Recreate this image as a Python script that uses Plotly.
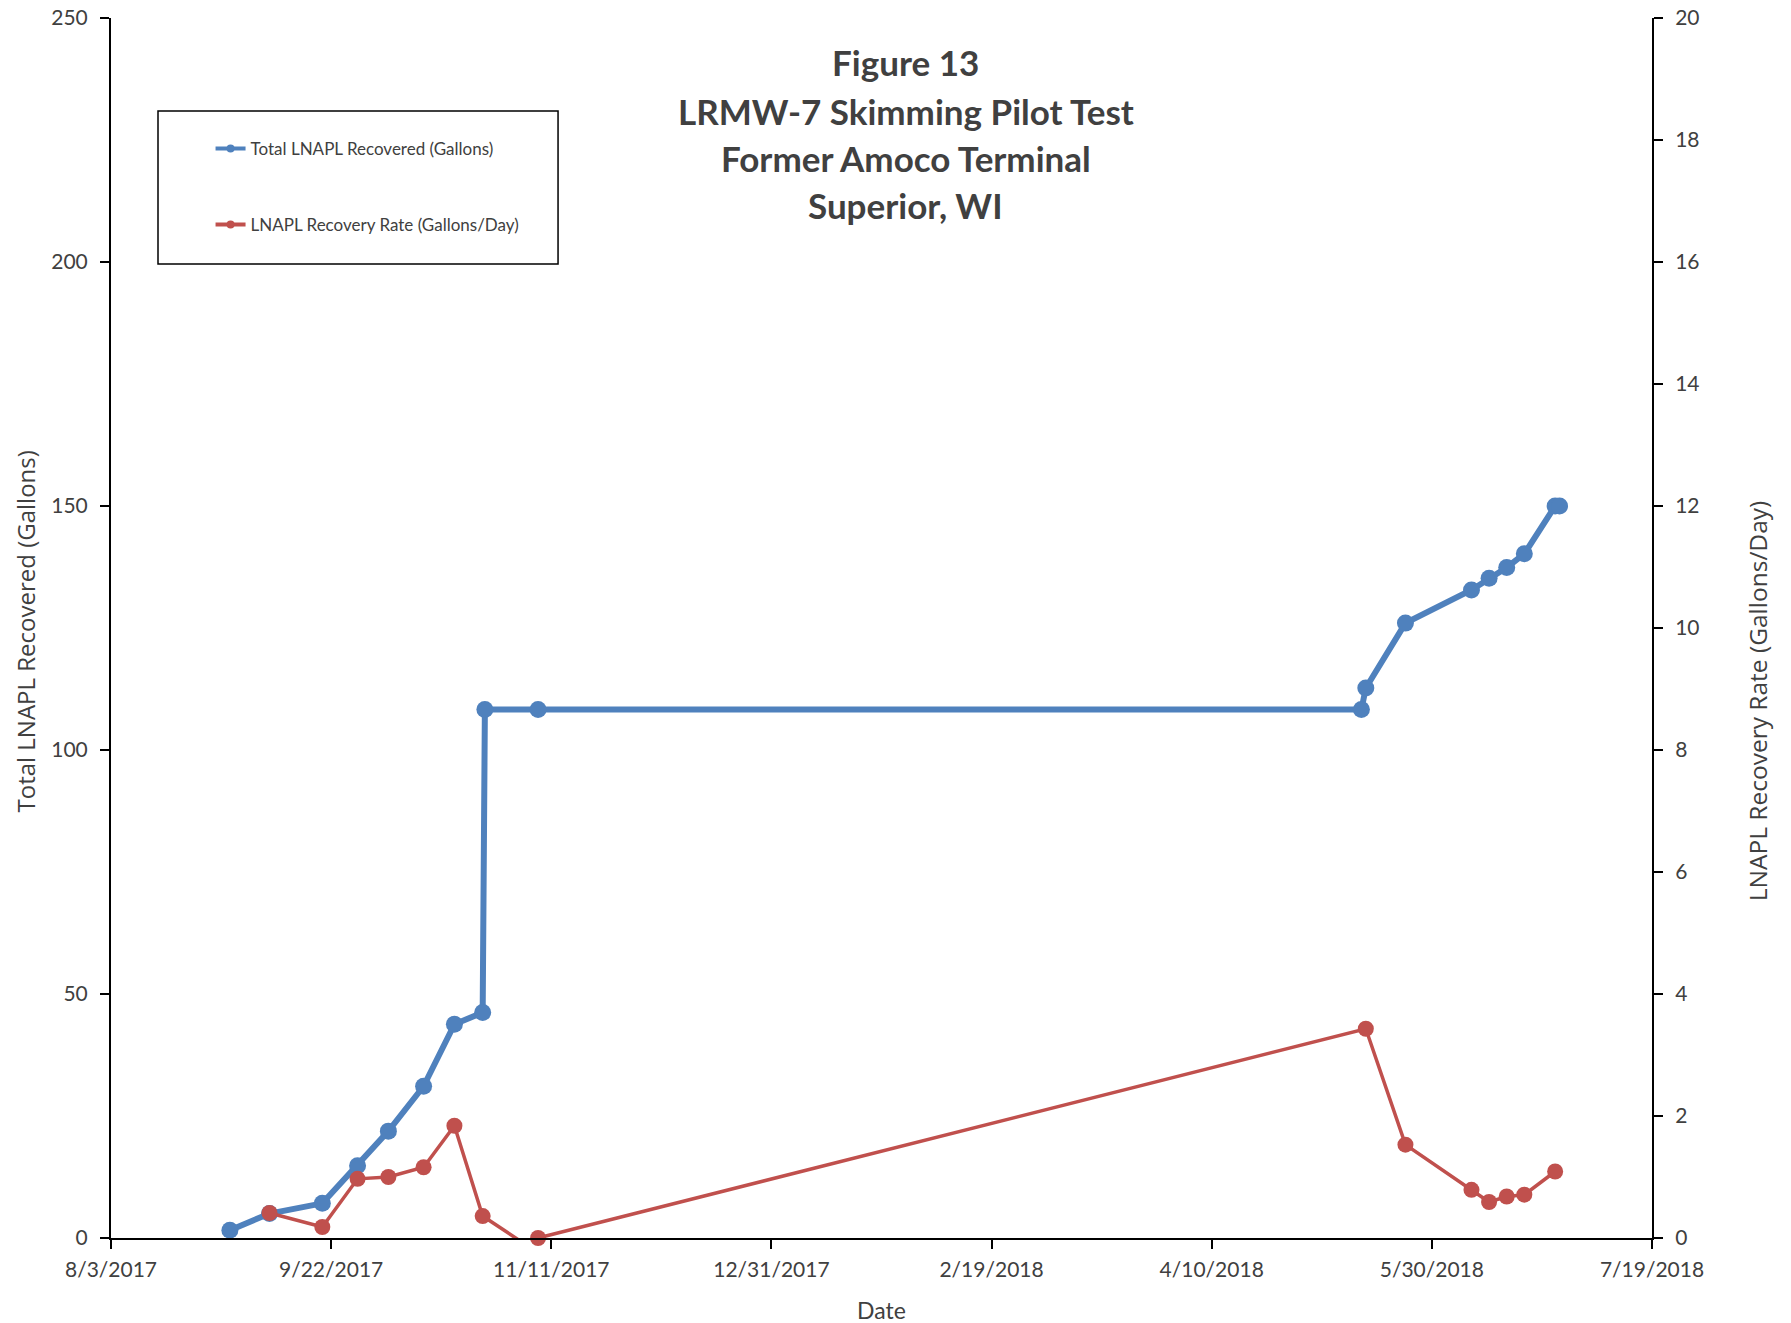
import plotly.graph_objects as go
import pandas as pd

# ---------------- data ----------------
total_dates = [
    "2017-08-30", "2017-09-08", "2017-09-20", "2017-09-28", "2017-10-05",
    "2017-10-13", "2017-10-20", "2017-10-26 10:00", "2017-10-26 22:00",
    "2017-11-08", "2018-05-14", "2018-05-15", "2018-05-24", "2018-06-08",
    "2018-06-12", "2018-06-16", "2018-06-20", "2018-06-27", "2018-06-28",
]
total_gallons = [
    1.6, 5.0, 7.1, 14.8, 21.9,
    31.1, 43.8, 46.2, 108.3,
    108.3, 108.3, 112.7, 126.0, 132.8,
    135.2, 137.4, 140.2, 150.0, 150.0,
]

rate_dates = [
    "2017-09-08", "2017-09-20", "2017-09-28", "2017-10-05", "2017-10-13",
    "2017-10-20", "2017-10-26 10:00", "2017-11-05", "2017-11-08",
    "2018-05-15", "2018-05-24", "2018-06-08", "2018-06-12", "2018-06-16",
    "2018-06-20", "2018-06-27",
]
rate_gpd = [
    0.41, 0.18, 0.97, 1.00, 1.16,
    1.84, 0.36, -0.10, 0.00,
    3.43, 1.53, 0.79, 0.59, 0.68,
    0.71, 1.09,
]

title_lines = ["Figure 13", "LRMW-7 Skimming Pilot Test", "Former Amoco Terminal", "Superior, WI"]
series_names = ["Total LNAPL Recovered (Gallons)", "LNAPL Recovery Rate (Gallons/Day)"]
x_start, x_end = "2017-08-03", "2018-07-19"

# ---------------- styling ----------------
BLUE = "#4F81BD"
RED = "#C0504D"
TXT = "#404040"
TICK_FONT = dict(family="Lato", size=21, color=TXT)

tick_dates = pd.date_range(x_start, x_end, freq="50D")
tick_text = [f"{d.month}/{d.day}/{d.year}" for d in tick_dates]

fig = go.Figure()

fig.add_trace(go.Scatter(
    x=total_dates, y=total_gallons, mode="lines+markers",
    line=dict(color=BLUE, width=6), marker=dict(color=BLUE, size=17),
    name=series_names[0], showlegend=False, cliponaxis=False,
    xaxis="x", yaxis="y",
))
fig.add_trace(go.Scatter(
    x=rate_dates, y=rate_gpd, mode="lines+markers",
    line=dict(color=RED, width=3.5),
    marker=dict(color=RED, size=16, opacity=[0 if v < 0 else 1 for v in rate_gpd]),
    name=series_names[1], showlegend=False, cliponaxis=False,
    xaxis="x", yaxis="y2",
))

# legend entries (small symbols like the reference legend)
for nm, col, grp in [(series_names[0], BLUE, "a"), (series_names[1], RED, "b")]:
    fig.add_trace(go.Scatter(
        x=[None], y=[None], mode="lines+markers", name=nm,
        line=dict(color=col, width=4), marker=dict(color=col, size=8),
        legendgroup=grp, showlegend=True,
    ))

axis_common = dict(
    showline=True, linecolor="black", linewidth=2,
    ticks="outside", ticklen=9, tickwidth=2, tickcolor="black",
    showgrid=False, zeroline=False, tickfont=TICK_FONT,
    ticklabeloverflow="allow", automargin=False,
)

fig.update_layout(
    width=1791, height=1323,
    margin=dict(l=111, r=139, t=18, b=85),
    plot_bgcolor="white", paper_bgcolor="white",
    font=dict(family="Lato", color=TXT),
    xaxis=dict(
        type="date", range=[x_start, x_end],
        tickmode="array", tickvals=tick_dates, ticktext=tick_text,
        ticklabelstandoff=3,
        **axis_common,
    ),
    xaxis2=dict(
        type="date", range=[x_start, x_end], overlaying="x", anchor="y", side="bottom",
        tickmode="array", tickvals=tick_dates, showticklabels=False,
        showline=False, showgrid=False, zeroline=False, automargin=False,
        ticks="inside", ticklen=9, tickwidth=2, tickcolor="black",
    ),
    yaxis=dict(
        range=[0, 250], tickmode="linear", tick0=0, dtick=50,
        ticklabelstandoff=8,
        **axis_common,
    ),
    yaxis2=dict(
        range=[0, 20], tickmode="linear", tick0=0, dtick=2,
        overlaying="y", side="right", anchor="x",
        ticklabelstandoff=8,
        **axis_common,
    ),
    legend=dict(
        x=0.0646, y=0.9074, xanchor="left", yanchor="top",
        bgcolor="rgba(0,0,0,0)", borderwidth=0,
        font=dict(family="Lato", size=17, color=TXT),
        tracegroupgap=51, traceorder="grouped",
    ),
    showlegend=True,
)

# legend frame
fig.add_shape(type="rect", xref="paper", yref="paper",
              x0=0.0305, x1=0.2901, y0=0.7984, y1=0.9238,
              line=dict(color="black", width=1.5), fillcolor="rgba(0,0,0,0)")

# title lines
for txt, yy in zip(title_lines, [0.9640, 0.9240, 0.8850, 0.8465]):
    fig.add_annotation(text=f"<b>{txt}</b>", xref="paper", yref="paper",
                       x=0.5158, y=yy, xanchor="center", yanchor="middle",
                       showarrow=False, font=dict(family="Lato", size=35, color=TXT))

# axis titles
fig.add_annotation(text="Total LNAPL Recovered (Gallons)", xref="paper", yref="paper",
                   x=-0.0555, y=0.4975, textangle=-90, showarrow=False,
                   xanchor="center", yanchor="middle",
                   font=dict(family="Open Sans", size=24, color=TXT))
fig.add_annotation(text="LNAPL Recovery Rate (Gallons/Day)", xref="paper", yref="paper",
                   x=1.069, y=0.4402, textangle=-90, showarrow=False,
                   xanchor="center", yanchor="middle",
                   font=dict(family="Open Sans", size=24.5, color=TXT))
fig.add_annotation(text="Date", xref="paper", yref="paper",
                   x=0.5, y=-0.059, showarrow=False,
                   xanchor="center", yanchor="middle",
                   font=dict(family="Lato", size=23, color=TXT))

fig.write_html("out.html", config={"displayModeBar": False},
               post_script="document.body.style.margin='0';document.body.style.overflow='hidden';")
